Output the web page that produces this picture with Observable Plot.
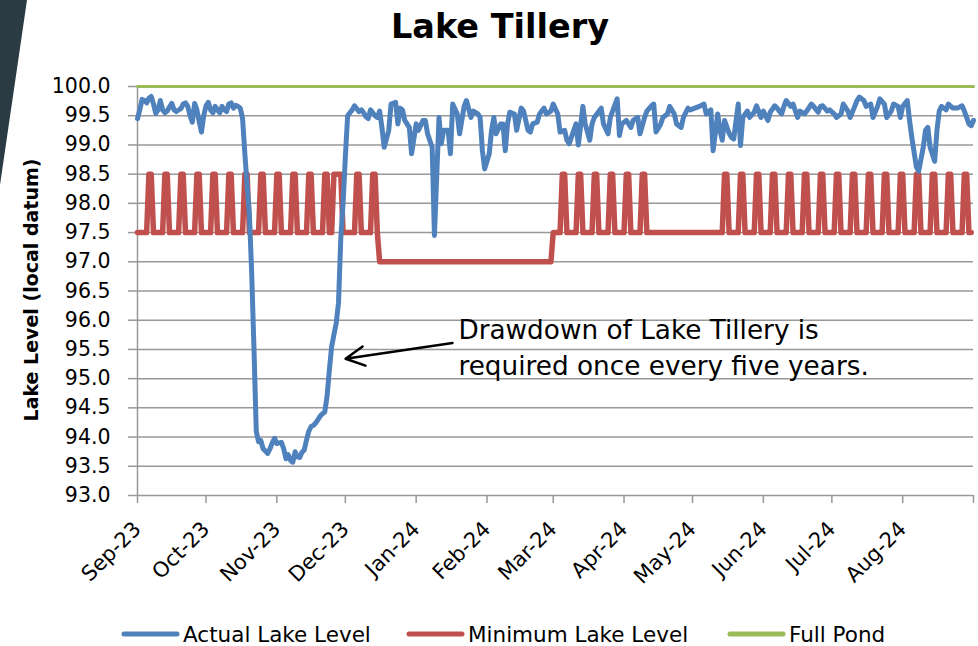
<!DOCTYPE html>
<html>
<head>
<meta charset="utf-8">
<script src="https://cdn.jsdelivr.net/npm/d3@7"></script>
<script src="https://cdn.jsdelivr.net/npm/@observablehq/plot@0.6"></script>
<style>
  body { margin: 0; background: #fff; font-family: "DejaVu Sans", sans-serif; }
  #page { position: relative; width: 978px; height: 646px; overflow: hidden; background: #fff; }
  #chart { position: absolute; left: 0; top: 58px; z-index: 1; }
  #wedge { position: absolute; left: 0; top: 0; width: 30px; height: 190px; background: #2a3b44; z-index: 2;
           clip-path: polygon(0 0, 27px 0, 0 185px); }
  #title { position: absolute; left: 0; top: 7px; width: 978px; padding-left: 22px; box-sizing: border-box; z-index: 2;
           text-align: center; font-weight: bold; font-size: 33.5px; line-height: 40px; color: #000; }
  #ylabel { position: absolute; left: 31px; top: 290px; transform: translate(-50%, -50%) rotate(-90deg); z-index: 2;
            white-space: nowrap; font-weight: bold; font-size: 19px; color: #000; }
  #legend { position: absolute; left: 0; top: 620px; width: 978px; height: 28px; z-index: 2;
            font-size: 21.5px; color: #000; white-space: nowrap; }
  .item { position: absolute; top: 0; height: 28px; display: flex; align-items: center; }
  .item svg { margin-right: 3px; }
</style>
</head>
<body>
<div id="page">
  <div id="chart"></div>
  <div id="wedge"></div>
  <div id="title">Lake Tillery</div>
  <div id="ylabel">Lake Level (local datum)</div>
  <div id="legend"></div>
</div>
<script>
// ---- Data (day offsets from 2023-09-01) ----
const actualDays = [0,1,2,3,4,5,6,7,8,9,10,11,12,13,14,15,16,17,18,19,20,21,22,23,24,25,26,27,28,29,30,31,32,33,34,35,36,37,38,39,40,41,42,43,44,45,46,47,48,49,50,51,52,53,54,55,56,57,58,59,60,61,62,63,64,65,66,67,68,69,70,71,72,73,74,75,76,77,78,79,80,81,82,83,84,85,86,87,88,89,90,91,92,93,94,95,96,97,98,99,100,101,102,103,104,105,106,107,108,110,111,113,114,115,116,117,119,120,122,123,125,126,127,129,130,132,133,134,136,137,138,140,141,143,144,146,147,149,150,151,152,154,155,156,157,159,160,161,162,163,165,166,168,169,171,172,173,175,176,178,179,181,182,184,185,187,188,189,191,192,193,195,196,198,199,200,203,204,206,207,208,210,211,212,214,216,217,219,220,222,223,225,226,227,229,230,232,233,235,236,238,239,241,242,244,246,248,249,251,252,254,255,256,257,259,260,261,263,264,265,267,268,270,271,273,274,276,277,279,280,282,283,284,286,287,289,290,292,293,295,296,298,299,300,302,303,305,306,308,309,311,312,314,315,316,318,319,321,322,324,325,327,328,330,331,333,334,335,337,338,339,341,342,344,345,346,347,349,350,351,352,354,355,357,359,361,362,364,365,366];
const actualLevels = [99.45,99.6,99.78,99.76,99.72,99.8,99.83,99.7,99.54,99.6,99.76,99.6,99.55,99.58,99.65,99.71,99.6,99.57,99.6,99.62,99.7,99.72,99.66,99.5,99.39,99.71,99.6,99.4,99.22,99.5,99.67,99.73,99.6,99.55,99.66,99.6,99.55,99.66,99.6,99.57,99.7,99.72,99.63,99.68,99.66,99.63,99.45,98.85,98.3,97.8,96.8,95.5,94.1,93.92,93.94,93.8,93.76,93.72,93.8,93.9,93.98,93.89,93.9,93.91,93.8,93.63,93.7,93.6,93.57,93.75,93.66,93.65,93.74,93.78,93.95,94.1,94.18,94.2,94.24,94.3,94.36,94.4,94.43,94.7,95.15,95.55,95.75,95.95,96.3,97.4,98.0,98.8,99.5,99.55,99.6,99.67,99.62,99.57,99.6,99.55,99.48,99.45,99.6,99.55,99.5,99.47,99.58,99.3,98.96,99.25,99.7,99.73,99.36,99.63,99.6,99.42,99.3,98.85,99.36,99.25,99.42,99.42,99.19,98.96,97.45,99.47,99.02,99.25,99.25,98.85,99.7,99.53,99.19,99.66,99.76,99.47,99.58,99.53,99.47,98.9,98.59,98.85,99.25,99.47,99.19,99.36,99.36,98.9,99.36,99.56,99.53,99.25,99.63,99.58,99.25,99.22,99.36,99.39,99.53,99.63,99.53,99.58,99.7,99.53,99.22,99.25,99.08,99.02,99.25,99.36,99.0,99.66,99.36,99.08,99.36,99.47,99.63,99.36,99.19,99.47,99.58,99.79,99.16,99.36,99.42,99.3,99.42,99.47,99.19,99.47,99.58,99.67,99.7,99.22,99.35,99.47,99.53,99.66,99.53,99.36,99.3,99.47,99.63,99.6,99.63,99.66,99.7,99.53,99.6,98.9,99.53,99.25,99.08,99.42,99.2,99.13,99.1,99.7,98.99,99.47,99.58,99.47,99.56,99.67,99.47,99.58,99.42,99.56,99.67,99.63,99.53,99.66,99.76,99.66,99.7,99.47,99.58,99.53,99.58,99.7,99.66,99.56,99.66,99.67,99.58,99.6,99.53,99.47,99.53,99.7,99.58,99.47,99.66,99.76,99.82,99.76,99.66,99.7,99.47,99.66,99.79,99.7,99.47,99.58,99.7,99.66,99.47,99.66,99.76,99.42,99.13,98.62,98.55,98.96,99.25,99.3,98.96,98.72,99.25,99.58,99.66,99.6,99.7,99.63,99.63,99.67,99.58,99.36,99.33,99.42];

// Minimum lake level: base level steps and weekly 98.5 peaks (first/last day at peak)
const minBaseDays   = [0, 105, 106, 181, 182, 365];
const minBaseLevels = [97.5, 97.5, 97.0, 97.0, 97.5, 97.5];
const minPeakStart = [5,12,19,26,33,40,47,54,61,68,75,82,86,96,103,186,193,200,207,214,221,257,264,271,278,285,292,299,306,313,320,327,334,341,348,355,362];
const minPeakEnd   = [6,13,20,27,34,41,48,55,62,69,76,83,89,97,104,187,194,201,208,215,222,258,265,272,279,286,293,300,307,314,321,328,335,342,349,356,363];
const minLow = 97.5, minHigh = 98.5;

const fullPondDays = [0, 366];
const fullPondLevels = [100, 100];

const yTicks = [93.0,93.5,94.0,94.5,95.0,95.5,96.0,96.5,97.0,97.5,98.0,98.5,99.0,99.5,100.0];
const monthTicks = ["2023-09-01","2023-10-01","2023-11-01","2023-12-01","2024-01-01","2024-02-01","2024-03-01","2024-04-01","2024-05-01","2024-06-01","2024-07-01","2024-08-01","2024-09-01"];
const monthLabels = ["Sep-23","Oct-23","Nov-23","Dec-23","Jan-24","Feb-24","Mar-24","Apr-24","May-24","Jun-24","Jul-24","Aug-24",""];

const seriesNames = ["Actual Lake Level","Minimum Lake Level","Full Pond"];
const seriesColors = ["#4f81bd","#c0504d","#9bbb59"];
const legendLeft = [120, 405, 726];

const annotationLines = ["Drawdown of Lake Tillery is","required once every five years."];
const annotationDay = 140.5, annotationLevel = 95.56;
const arrowFromDay = 137.9, arrowFromLevel = 95.61, arrowToDay = 91.1, arrowToLevel = 95.34;

// ---- Build tables ----
const start = Date.UTC(2023, 8, 1);
const toDate = d => new Date(start + d * 864e5);

const actual = actualDays.map((d, i) => ({date: toDate(d), level: actualLevels[i]}));

let minPts = minBaseDays.map((d, i) => ({d, v: minBaseLevels[i]}));
minPeakStart.forEach((s, i) => {
  const e = minPeakEnd[i];
  minPts.push({d: s - 1, v: minLow}, {d: s, v: minHigh}, {d: e, v: minHigh}, {d: e + 1, v: minLow});
});
minPts.sort((a, b) => a.d - b.d);
minPts = minPts.filter((p, i) => i === 0 || p.d !== minPts[i - 1].d);
const minimum = minPts.map(p => ({date: toDate(p.d), level: p.v}));

const full = fullPondDays.map((d, i) => ({date: toDate(d), level: fullPondLevels[i]}));

const tickDates = monthTicks.map(s => new Date(s + "T00:00:00Z"));
const labelOf = new Map(tickDates.map((t, i) => [+t, monthLabels[i]]));

const grid = "#989898";

const plot = Plot.plot({
  width: 978,
  height: 542,
  marginLeft: 137,
  marginRight: 5,
  marginTop: 28,
  marginBottom: 105,
  style: {fontFamily: "DejaVu Sans", fontSize: "20.5px", color: "#000", background: "none", overflow: "visible"},
  x: {type: "utc", domain: [toDate(0), toDate(366)]},
  y: {domain: [93, 100]},
  marks: [
    Plot.ruleY(yTicks, {stroke: grid, strokeWidth: 1.5}),
    Plot.ruleX([toDate(0)], {stroke: grid, strokeWidth: 1.5}),
    Plot.axisY(yTicks, {tickSize: 9, tickPadding: 18, stroke: grid, strokeWidth: 1.5, strokeOpacity: 1,
      tickFormat: d3.format(".1f"), label: null, fontSize: 20.5, fill: "#000"}),
    Plot.axisX(tickDates, {tickSize: 8, tickPadding: 22, tickRotate: -45, stroke: grid, strokeWidth: 1.5, strokeOpacity: 1,
      tickFormat: d => labelOf.get(+d), label: null, fontSize: 21, fill: "#000"}),
    Plot.line(full, {x: "date", y: "level", stroke: seriesColors[2], strokeWidth: 3}),
    Plot.line(minimum, {x: "date", y: "level", stroke: seriesColors[1], strokeWidth: 5.5, strokeLinejoin: "round", strokeLinecap: "round"}),
    Plot.line(actual, {x: "date", y: "level", stroke: seriesColors[0], strokeWidth: 5, strokeLinejoin: "round", strokeLinecap: "round"}),
    Plot.arrow([{x1: toDate(arrowFromDay), y1: arrowFromLevel, x2: toDate(arrowToDay), y2: arrowToLevel}],
      {x1: "x1", y1: "y1", x2: "x2", y2: "y2", stroke: "#000", strokeWidth: 2.5, headLength: 12.6, headAngle: 55}),
    Plot.text([{date: toDate(annotationDay), level: annotationLevel, t: annotationLines.join("\n")}],
      {x: "date", y: "level", text: "t", textAnchor: "start", lineAnchor: "middle", lineHeight: 1.36,
       fontSize: 26.3, fill: "#000", fontFamily: "DejaVu Sans"})
  ]
});
document.getElementById("chart").appendChild(plot);

// ---- Legend ----
const legend = document.getElementById("legend");
seriesNames.forEach((name, i) => {
  const item = document.createElement("div");
  item.className = "item";
  item.style.left = legendLeft[i] + "px";
  item.innerHTML = `<svg width="60" height="10"><line x1="4" y1="5" x2="57" y2="5" stroke="${seriesColors[i]}" stroke-width="5" stroke-linecap="round"/></svg><span>${name}</span>`;
  legend.appendChild(item);
});
</script>
</body>
</html>
